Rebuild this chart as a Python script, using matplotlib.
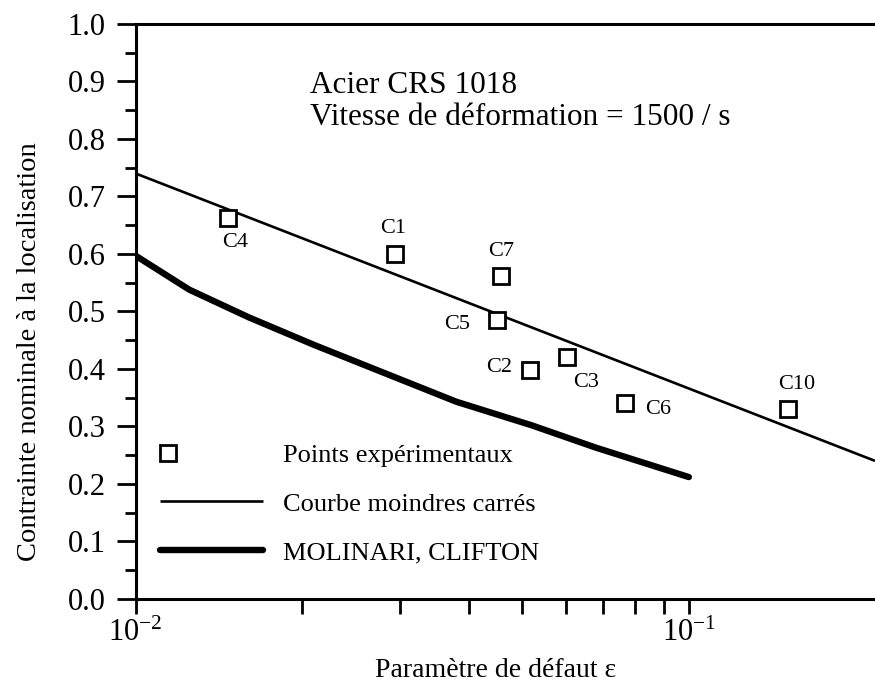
import matplotlib
matplotlib.use("Agg")
import matplotlib.pyplot as plt
import numpy as np
from matplotlib.ticker import FixedLocator, LogFormatterMathtext, NullFormatter, MultipleLocator
from matplotlib.legend_handler import HandlerLine2D

# --- data ---
specimens = ["C4", "C1", "C7", "C5", "C2", "C3", "C6", "C10"]
defect_param = [0.0147, 0.0294, 0.0457, 0.0451, 0.0517, 0.0602, 0.0767, 0.151]
stress_exp = [0.662, 0.600, 0.562, 0.485, 0.398, 0.420, 0.341, 0.330]

# least-squares fit: y = a + b*log10(eps)
fit_a = 0.740 - 0.374 * 2.0
fit_b = -0.374
fit_range = [0.01, 0.217]

molinari_x = [0.010, 0.0125, 0.016, 0.021, 0.027, 0.038, 0.052, 0.068, 0.100]
molinari_y = [0.597, 0.538, 0.490, 0.442, 0.400, 0.343, 0.302, 0.263, 0.212]

legend_labels = ["Points expérimentaux", "Courbe moindres carrés", "MOLINARI, CLIFTON"]

# label offsets (pixels) around each square
label_offsets = {"C4": (7, -24), "C1": (-2, 25), "C7": (0, 24), "C5": (-40, -4),
                 "C2": (-31, 3), "C3": (19, -25), "C6": (33, -7), "C10": (9, 25)}

plt.rcParams["font.family"] = ["Liberation Serif", "DejaVu Serif"]
plt.rcParams["mathtext.fontset"] = "custom"
plt.rcParams["mathtext.rm"] = "Liberation Serif"
plt.rcParams["mathtext.it"] = "Liberation Serif:italic"
plt.rcParams["axes.unicode_minus"] = False


class MarkerLeftHandler(HandlerLine2D):
    # put the single legend marker near the left end of the handle
    def get_xdata(self, legend, xdescent, ydescent, width, height, fontsize):
        m = -xdescent + 0.08 * width
        return [m, m], [m]


fig = plt.figure(figsize=(8.75, 6.83), dpi=100)
ax = fig.add_axes([0.1549, 0.123, 0.8451, 0.842])

xfit = np.logspace(np.log10(fit_range[0]), np.log10(fit_range[1]), 50)
yfit = fit_a + fit_b * np.log10(xfit)
line_fit, = ax.plot(xfit, yfit, color="black", lw=1.9, solid_capstyle="butt")
line_mol, = ax.plot(molinari_x, molinari_y, color="black", lw=4.6,
                    solid_capstyle="round")
pts, = ax.plot(defect_param, stress_exp, ls="none", marker="s", ms=11.5,
               mfc="white", mec="black", mew=2.0)

for name, x, y in zip(specimens, defect_param, stress_exp):
    dx, dy = label_offsets[name]
    ax.annotate(name, (x, y), xytext=(dx, dy), textcoords="offset pixels",
                ha="center", va="center", fontsize=16)

ax.set_xscale("log")
ax.set_xlim(0.01, 0.217)
ax.set_ylim(0.0, 1.0)

ax.xaxis.set_major_locator(FixedLocator([0.01, 0.1]))
ax.xaxis.set_major_formatter(LogFormatterMathtext())
ax.xaxis.set_minor_locator(FixedLocator([k * 0.01 for k in range(2, 10)]))
ax.xaxis.set_minor_formatter(NullFormatter())
ax.yaxis.set_major_locator(MultipleLocator(0.1))
ax.yaxis.set_minor_locator(MultipleLocator(0.05))
ax.yaxis.set_major_formatter(plt.FormatStrFormatter("%.1f"))

ax.tick_params(axis="both", which="both", direction="out", width=2.0, labelsize=22,
               top=False, right=False)
ax.tick_params(axis="y", which="major", length=13.5, pad=8)
ax.tick_params(axis="y", which="minor", length=8)
ax.tick_params(axis="x", which="both", length=11, pad=3)

ax.spines["right"].set_visible(False)
for s in ("left", "bottom", "top"):
    ax.spines[s].set_linewidth(2.2)

ax.set_xlabel("Paramètre de défaut ε", fontsize=20)
ax.xaxis.set_label_coords(0.4875, -0.125)
ax.xaxis.label.set_va("center")
ax.set_ylabel("Contrainte nominale à la localisation", fontsize=20.5)
ax.yaxis.set_label_coords(-0.143, 0.43)
ax.yaxis.label.set_va("center")

ax.text(0.236, 0.880, "Acier CRS 1018", transform=ax.transAxes, fontsize=22.5,
        va="baseline")
ax.text(0.236, 0.824, "Vitesse de déformation = 1500 / s", transform=ax.transAxes,
        fontsize=22.5, va="baseline")

ax.legend([pts, line_fit, line_mol], legend_labels,
          handler_map={pts: MarkerLeftHandler(numpoints=1)},
          loc="upper left", bbox_to_anchor=(0.033, 0.270), frameon=False,
          fontsize=19, handlelength=3.9, handletextpad=0.76, labelspacing=0.95,
          borderpad=0, borderaxespad=0)

fig.savefig("out.png", dpi=100)
